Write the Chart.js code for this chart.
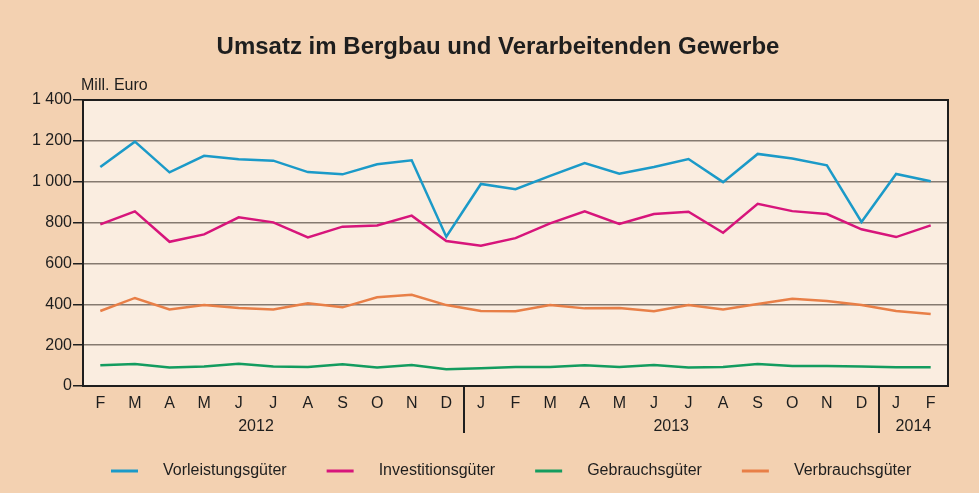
<!DOCTYPE html>
<html lang="de">
<head>
<meta charset="UTF-8">
<title>Umsatz im Bergbau und Verarbeitenden Gewerbe</title>
<script src="https://cdn.jsdelivr.net/npm/chart.js@4"></script>
<style>
  html, body { margin: 0; padding: 0; background: #f3d1b1; }
  #chart { display: block; }
</style>
</head>
<body>
<canvas id="chart" width="979" height="493"></canvas>
<script>
// Monate Feb 2012 bis Feb 2014
const months = ['F','M','A','M','J','J','A','S','O','N','D',
                'J','F','M','A','M','J','J','A','S','O','N','D',
                'J','F'];
const years = ['2012', '2013', '2014'];
const yearFirst = [-1, 11, 23];   // Index des Januars (2012 beginnt erst im Februar)
const yearLast = [10, 22, 24];

// Mill. Euro
const vorleistung = [1072, 1196, 1046, 1127, 1110, 1103, 1047, 1036, 1085, 1105, 731,
                     989, 963, 1029, 1091, 1039, 1072, 1111, 998, 1136, 1114, 1080, 803,
                     1038, 1002];
const investition = [791, 855, 706, 742, 826, 801, 727, 780, 786, 834, 710,
                     687, 724, 796, 855, 793, 842, 853, 750, 892, 856, 842, 767,
                     729, 786];
const gebrauch = [101, 108, 90, 95, 109, 95, 93, 106, 90, 103, 82,
                  87, 93, 93, 101, 93, 103, 90, 93, 108, 98, 98, 95,
                  92, 92];
const verbrauch = [367, 431, 375, 396, 382, 375, 405, 385, 434, 447, 396,
                   367, 366, 396, 380, 382, 366, 396, 375, 401, 427, 416, 396,
                   367, 352];

const title = 'Umsatz im Bergbau und Verarbeitenden Gewerbe';
const outerBg = '#f3d1b1';
const plotBg = '#faede0';
const ink = '#1e1e1e';
const font = 'Liberation Sans, Arial, sans-serif';

function fmt(v) {
    return String(v).replace(/\B(?=(\d{3})+(?!\d))/g, ' ');
}

// Hintergrund, Rahmen, Titel, Jahreszeile, Legende
const decor = {
    id: 'decor',
    beforeDraw(chart) {
        const { ctx, chartArea: a } = chart;
        ctx.save();
        ctx.fillStyle = outerBg;
        ctx.fillRect(0, 0, chart.width, chart.height);
        ctx.fillStyle = plotBg;
        ctx.fillRect(a.left, a.top, a.right - a.left, a.bottom - a.top);
        ctx.restore();
    },
    beforeDatasetsDraw(chart) {
        const { ctx, chartArea: a } = chart;
        ctx.save();
        ctx.strokeStyle = ink;
        ctx.lineWidth = 2;
        ctx.strokeRect(a.left, a.top, a.right - a.left, a.bottom - a.top);
        ctx.restore();
    },
    afterDraw(chart) {
        const { ctx, chartArea: a } = chart;
        const x = chart.scales.x;
        ctx.save();
        ctx.fillStyle = ink;
        ctx.textBaseline = 'middle';

        // Titel
        ctx.font = 'bold 24px ' + font;
        ctx.textAlign = 'center';
        ctx.fillText(title, 498, 47);

        ctx.font = '16px ' + font;

        // Einheit
        ctx.textAlign = 'left';
        ctx.fillText('Mill. Euro', 81, 86);

        // Jahre und Trennstriche
        ctx.textAlign = 'center';
        ctx.strokeStyle = ink;
        ctx.lineWidth = 2;
        years.forEach((y, i) => {
            const cx = x.getPixelForValue((yearFirst[i] + yearLast[i]) / 2);
            ctx.fillText(y, cx, 427);
            if (i > 0) {
                const dx = Math.round(x.getPixelForValue(yearFirst[i] - 0.5));
                ctx.beginPath();
                ctx.moveTo(dx, a.bottom);
                ctx.lineTo(dx, 433);
                ctx.stroke();
            }
        });

        // Legende
        let lx = a.left + 28;
        const ly = 471;
        chart.data.datasets.forEach(ds => {
            ctx.strokeStyle = ds.borderColor;
            ctx.lineWidth = 3;
            ctx.beginPath();
            ctx.moveTo(lx, ly);
            ctx.lineTo(lx + 27, ly);
            ctx.stroke();
            lx += 27 + 25;
            ctx.textAlign = 'left';
            ctx.fillStyle = ink;
            ctx.fillText(ds.label, lx, ly);
            lx += ctx.measureText(ds.label).width + 40;
        });
        ctx.restore();
    }
};

Chart.defaults.font.family = font;
Chart.defaults.font.size = 16;
Chart.defaults.color = ink;

new Chart(document.getElementById('chart'), {
    type: 'line',
    data: {
        labels: months,
        datasets: [
            { label: 'Vorleistungsgüter', data: vorleistung, borderColor: '#1b9ac8' },
            { label: 'Investitionsgüter', data: investition, borderColor: '#d7157b' },
            { label: 'Gebrauchsgüter', data: gebrauch, borderColor: '#139c5f' },
            { label: 'Verbrauchsgüter', data: verbrauch, borderColor: '#e87f47' }
        ]
    },
    options: {
        responsive: false,
        animation: false,
        devicePixelRatio: 1,
        layout: { padding: { left: 0, right: 31, top: 100, bottom: 0 } },
        elements: {
            line: { borderWidth: 2.5, tension: 0, fill: false },
            point: { radius: 0, hoverRadius: 0 }
        },
        plugins: {
            legend: { display: false },
            tooltip: { enabled: false },
            title: { display: false }
        },
        scales: {
            x: {
                offset: true,
                grid: { display: false, drawTicks: false },
                border: { display: true, color: ink, width: 2 },
                ticks: { autoSkip: false, maxRotation: 0, padding: 8 },
                afterFit: s => { s.height = 107; }
            },
            y: {
                min: 0,
                max: 1400,
                ticks: { stepSize: 200, padding: 1, callback: v => fmt(v) },
                grid: { color: '#857a70', lineWidth: 1.5, tickLength: 10, tickColor: ink },
                border: { display: true, color: ink, width: 2 },
                afterFit: s => { s.width = 83; }
            }
        }
    },
    plugins: [decor]
});
</script>
</body>
</html>
